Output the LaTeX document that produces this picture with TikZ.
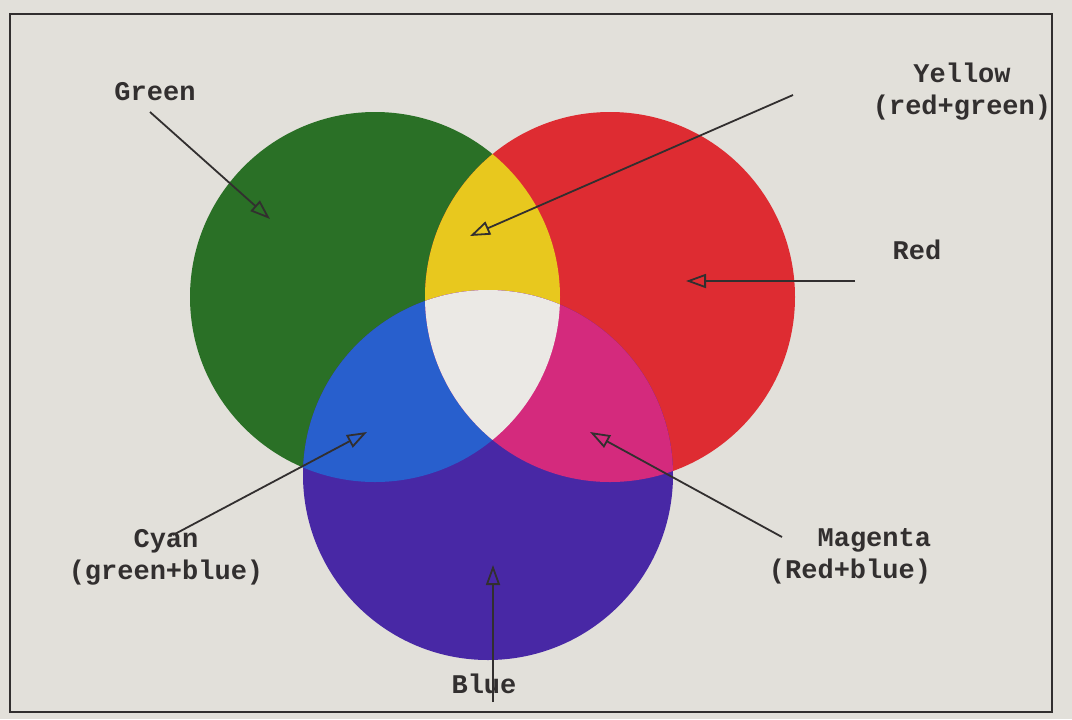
\documentclass[tikz,border=0pt]{standalone}
\usepackage{fontspec}
\newfontfamily\typefont{Liberation Mono}
\usetikzlibrary{arrows.meta}
\definecolor{paper}{RGB}{226,224,218}
\definecolor{ink}{RGB}{50,47,47}
\definecolor{mkgreen}{RGB}{42,112,38}
\definecolor{mkred}{RGB}{222,44,50}
\definecolor{mkblue}{RGB}{72,40,165}
\definecolor{mkyellow}{RGB}{232,200,30}
\definecolor{mkcyan}{RGB}{40,95,205}
\definecolor{mkmagenta}{RGB}{212,42,125}
\tikzset{
  lbl/.style={font=\typefont\bfseries\fontsize{13.5}{16}\selectfont, text=ink, inner sep=1pt},
  pointer/.style={-{Triangle[open, length=10pt, width=7pt, line width=0.9pt]}, line width=0.9pt, draw=ink},
}

\begin{document}
\begin{tikzpicture}[x=0.5pt, y=-0.5pt]
\fill[paper] (0,0) rectangle (1072,719);
\useasboundingbox (0,0) rectangle (1072,719);
\draw[ink, line width=1pt] (10,14) rectangle (1052,712);

\def\rad{92.5pt}
\coordinate (G) at (375,297);
\coordinate (R) at (610,297);
\coordinate (B) at (488,475);

% the three discs
\fill[mkgreen] (G) circle (\rad);
\fill[mkred] (R) circle (\rad);
\fill[mkblue] (B) circle (\rad);

% overlaps
\begin{scope}
  \clip (G) circle (\rad);
  \fill[mkyellow] (R) circle (\rad);
  \fill[mkcyan] (B) circle (\rad);
\end{scope}
\begin{scope}
  \clip (R) circle (\rad);
  \fill[mkmagenta] (B) circle (\rad);
\end{scope}
\begin{scope}
  \clip (G) circle (\rad);
  \clip (R) circle (\rad);
  \fill[paper!70!white] (B) circle (\rad);
\end{scope}

% labels
\node[lbl] (green) at (155,92) {Green};
\node[lbl, align=center] (yellow) at (962,92) {Yellow\\(red+green)};
\node[lbl] (red) at (917,250) {Red};
\node[lbl, align=center] (cyan) at (166,557) {Cyan\\(green+blue)};
\node[lbl, align=right] (magenta) at (850,556) {Magenta\\(Red+blue)};
\node[lbl] (blue) at (484,684) {Blue};

% arrow ends
\coordinate (green-tail) at (150,112);
\coordinate (green-tip) at (270,219);
\coordinate (yellow-tail) at (793,95);
\coordinate (yellow-tip) at (470,236);
\coordinate (red-tail) at (855,281);
\coordinate (red-tip) at (686,281);
\coordinate (cyan-tail) at (173,535);
\coordinate (cyan-tip) at (367,432);
\coordinate (magenta-tail) at (782,537);
\coordinate (magenta-tip) at (590,432);
\coordinate (blue-tail) at (493,702);
\coordinate (blue-tip) at (493,565);

\foreach \c in {green, yellow, red, cyan, magenta, blue} {
  \draw[pointer] (\c-tail) -- (\c-tip);
}
\end{tikzpicture}
\end{document}
